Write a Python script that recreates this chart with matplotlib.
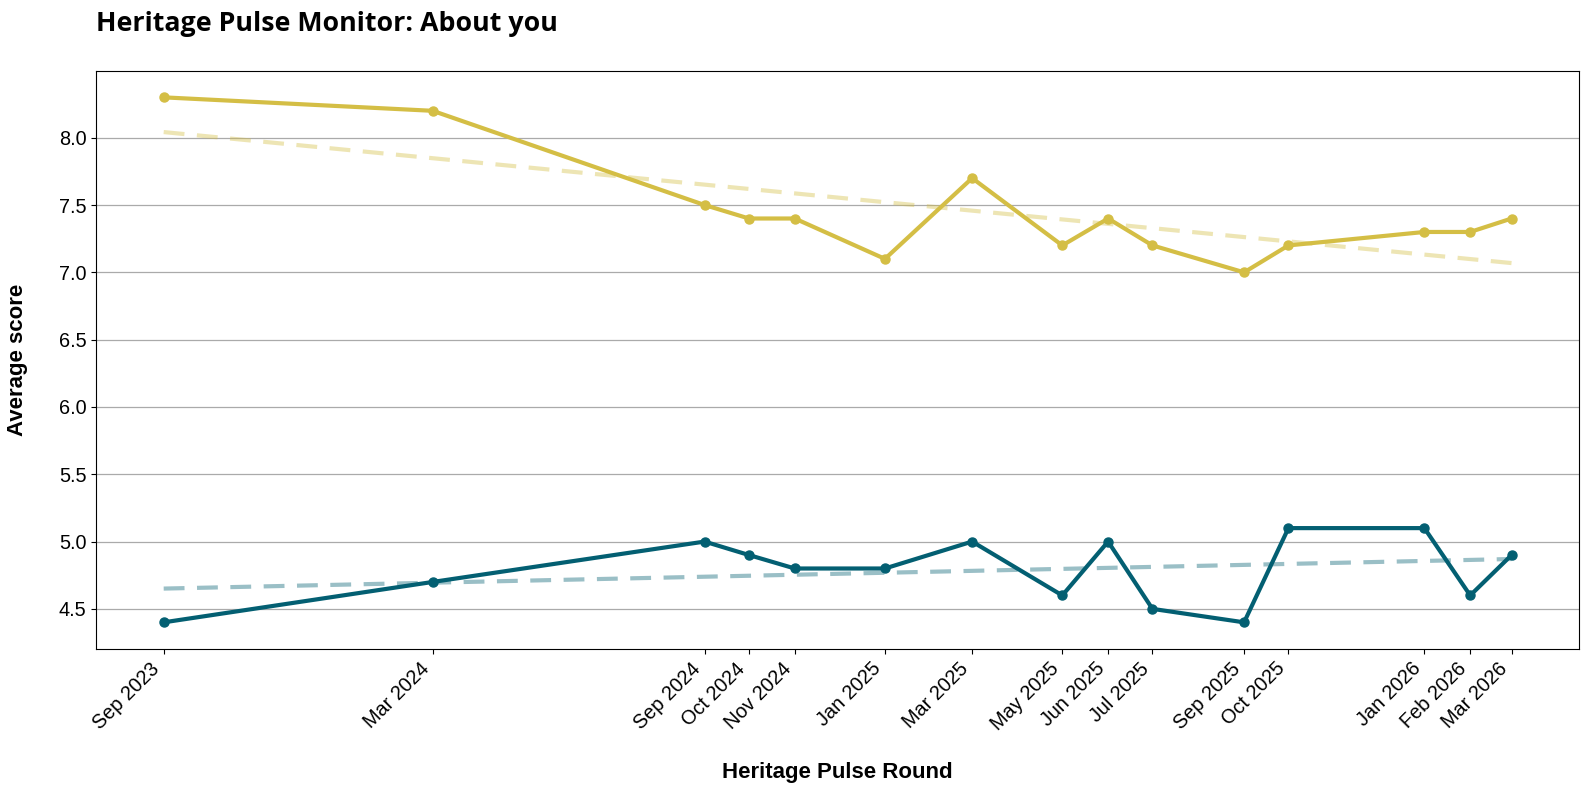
import matplotlib
matplotlib.use("Agg")
import matplotlib.pyplot as plt
import matplotlib.dates as mdates
import numpy as np
import pandas as pd

rounds = ["2023-09-01", "2024-03-01", "2024-09-01", "2024-10-01", "2024-11-01",
          "2025-01-01", "2025-03-01", "2025-05-01", "2025-06-01", "2025-07-01",
          "2025-09-01", "2025-10-01", "2026-01-01", "2026-02-01", "2026-03-01"]
tick_labels = ["Sep 2023", "Mar 2024", "Sep 2024", "Oct 2024", "Nov 2024",
               "Jan 2025", "Mar 2025", "May 2025", "Jun 2025", "Jul 2025",
               "Sep 2025", "Oct 2025", "Jan 2026", "Feb 2026", "Mar 2026"]
series_gold = [8.3, 8.2, 7.5, 7.4, 7.4, 7.1, 7.7, 7.2, 7.4, 7.2, 7.0, 7.2, 7.3, 7.3, 7.4]
series_teal = [4.4, 4.7, 5.0, 4.9, 4.8, 4.8, 5.0, 4.6, 5.0, 4.5, 4.4, 5.1, 5.1, 4.6, 4.9]

gold = "#D4BE45"
teal = "#035F72"

plt.rcParams['font.family'] = ['Liberation Sans', 'DejaVu Sans']

dates = pd.to_datetime(rounds)
xnum = mdates.date2num(dates)

fig = plt.figure(figsize=(15.89, 7.90), dpi=100)
ax = fig.add_axes([0.0606, 0.179, 0.9331, 0.731])

for vals, col in [(series_gold, gold), (series_teal, teal)]:
    ax.plot(dates, vals, color=col, lw=3, marker="o", ms=6.5, zorder=3)
    coef = np.polyfit(xnum, vals, 1)
    ax.plot(dates, np.polyval(coef, xnum), color=col, lw=3, ls=(0, (5, 3)),
            alpha=0.4, zorder=2)

ax.set_xticks(dates)
ax.set_xticklabels(tick_labels, rotation=45, ha="right", fontsize=14.3)
ax.tick_params(axis="y", labelsize=14.3)
ax.tick_params(axis="x", pad=4)
ax.yaxis.grid(True, color="#aaaaaa", lw=0.9)
ax.set_axisbelow(True)
ax.set_yticks([4.5, 5.0, 5.5, 6.0, 6.5, 7.0, 7.5, 8.0])

ax.set_xlabel("Heritage Pulse Round", fontsize=16, fontweight="bold", labelpad=20)
ax.set_ylabel("Average score", fontsize=16, fontweight="bold", labelpad=22)

fig.text(0.0606, 0.969, "Heritage Pulse Monitor: About you", fontsize=19.3,
         fontweight="bold", family=["Open Sans", "DejaVu Sans"], ha="left", va="center")

fig.savefig("out.png", dpi=100)
